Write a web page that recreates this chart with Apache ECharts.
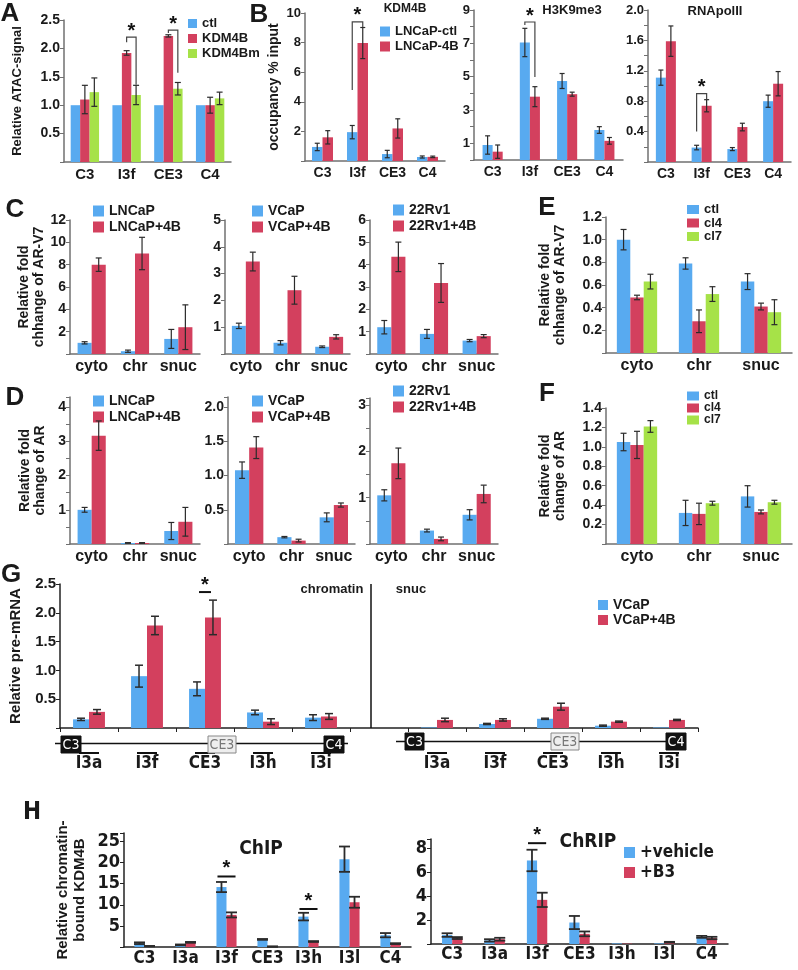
<!DOCTYPE html>
<html><head><meta charset="utf-8"><title>chart</title>
<script src="https://cdn.jsdelivr.net/npm/echarts@6.0.0/dist/echarts.min.js"></script>
<style>html,body{margin:0;padding:0;background:#fff;}#chart{width:798px;height:970px;}</style>
</head><body><div id="chart"></div>
<script>
// ================= DATA =================
// Panel A
const catsA = ['C3','I3f','CE3','C4'];
const A_ctl = [1.0,1.0,1.0,1.0],      A_ctlErr = [0,0,0,0];
const A_4B  = [1.10,1.92,2.22,1.00],  A_4BErr  = [0.25,0.04,0.02,0.14];
const A_4Bm = [1.23,1.18,1.29,1.12],  A_4BmErr = [0.25,0.17,0.11,0.11];
const A_ticks = [0.5,1.0,1.5,2.0,2.5];
const A_sig = [[1,2.20,2.11,1.36],[2,2.32,2.27,1.57]];
// Panel B
const catsB = ['C3','I3f','CE3','C4'];
const B1_ctl = [0.95,1.95,0.47,0.27], B1_ctlErr = [0.25,0.45,0.25,0.07];
const B1_4B  = [1.60,7.97,2.20,0.28], B1_4BErr  = [0.45,1.05,0.65,0.05];
const B1_ticks = [2,4,6,8,10];
const B1_sig = [[1,9.4,4.8,9.05]];
const B2_ctl = [0.90,7.05,4.74,1.80], B2_ctlErr = [0.55,0.85,0.45,0.20];
const B2_4B  = [0.50,3.80,3.95,1.15], B2_4BErr  = [0.40,0.60,0.12,0.20];
const B2_ticks = [1,3,5,7,9];
const B2_sig = [[1,8.28,8.1,4.98]];
const B3_ctl = [1.11,0.19,0.17,0.80], B3_ctlErr = [0.10,0.03,0.02,0.08];
const B3_4B  = [1.59,0.74,0.46,1.03], B3_4BErr  = [0.20,0.08,0.05,0.16];
const B3_ticks = [0.4,0.8,1.2,1.6,2.0];
const B3_sig = [[1,0.90,0.40,0.83]];
// Panels C / D / E / F
const catsC = ['cyto','chr','snuc'];
const C1_a = [1.00,0.25,1.35], C1_aErr = [0.10,0.10,0.85];
const C1_b = [8.00,9.00,2.40], C1_bErr = [0.60,1.45,2.00];
const C1_ticks = [2,4,6,8,10,12];
const C2_a = [1.05,0.42,0.27], C2_aErr = [0.10,0.08,0.03];
const C2_b = [3.45,2.38,0.64], C2_bErr = [0.35,0.52,0.08];
const C2_ticks = [1,2,3,4,5];
const C3_a = [1.20,0.90,0.60], C3_aErr = [0.30,0.20,0.05];
const C3_b = [4.35,3.18,0.80], C3_bErr = [0.66,0.87,0.07];
const C3_ticks = [1,2,3,4,5,6];
const E_ctl = [1.00,0.79,0.63], E_ctlErr = [0.09,0.05,0.07];
const E_cl4 = [0.49,0.28,0.41], E_cl4Err = [0.02,0.10,0.03];
const E_cl7 = [0.63,0.52,0.36], E_cl7Err = [0.065,0.065,0.11];
const E_ticks = [0.2,0.4,0.6,0.8,1.0,1.2];
const D1_a = [1.00,0.03,0.38], D1_aErr = [0.07,0.01,0.25];
const D1_b = [3.17,0.03,0.65], D1_bErr = [0.43,0.01,0.42];
const D1_ticks = [1,2,3,4];
const D2_a = [1.08,0.10,0.39], D2_aErr = [0.12,0.01,0.065];
const D2_b = [1.41,0.05,0.57], D2_bErr = [0.16,0.02,0.03];
const D2_ticks = [0.5,1.0,1.5,2.0];
const D3_a = [1.05,0.29,0.63], D3_aErr = [0.12,0.03,0.11];
const D3_b = [1.74,0.11,1.08], D3_bErr = [0.33,0.04,0.19];
const D3_ticks = [1,2,3];
const F_ctl = [1.05,0.32,0.49], F_ctlErr = [0.09,0.13,0.11];
const F_cl4 = [1.02,0.31,0.33], F_cl4Err = [0.14,0.11,0.02];
const F_cl7 = [1.21,0.42,0.43], F_cl7Err = [0.06,0.02,0.02];
const F_ticks = [0.2,0.4,0.6,0.8,1.0,1.2,1.4];
// Panel G
const G_chromCats = ['I3a','I3f','CE3','I3h','I3i'];
const G_snucCats  = ['I3a','I3f','CE3','I3h','I3i'];
const G_chrV   = [0.15,0.90,0.68,0.27,0.18], G_chrVErr  = [0.02,0.19,0.12,0.04,0.05];
const G_chrV4B = [0.28,1.78,1.92,0.11,0.20], G_chrV4BErr= [0.04,0.16,0.30,0.05,0.05];
const G_snV    = [0.01,0.07,0.16,0.04,0.01], G_snVErr   = [0,0.01,0.01,0.01,0];
const G_snV4B  = [0.14,0.14,0.37,0.11,0.14], G_snV4BErr = [0.03,0.02,0.06,0.01,0.01];
const G_ticks = [0.5,1.0,1.5,2.0,2.5];
const G_sig = [[2,2.36]];
// Panel H
const catsH = ['C3','I3a','I3f','CE3','I3h','I3l','C4'];
const H1_veh = [0.9,0.5,14.2,1.8,7.2,20.8,2.8], H1_vehErr = [0.2,0.1,1.2,0.1,0.9,3.0,0.5];
const H1_b3  = [0.2,1.1,7.6,0.1,1.3,10.6,0.8],  H1_b3Err  = [0.05,0.1,0.6,0.05,0.1,1.3,0.1];
const H1_ticks = [5,10,15,20,25];
const H1_sig = [[2,16.7],[4,9.0]];
const H2_veh = [0.75,0.30,7.0,1.80,0.05,0.05,0.60], H2_vehErr = [0.15,0.10,0.9,0.55,0,0,0.08];
const H2_b3  = [0.50,0.40,3.7,0.85,0.03,0.15,0.50], H2_b3Err  = [0.08,0.12,0.6,0.20,0,0.03,0.10];
const H2_ticks = [2,4,6,8];
const H2_sig = [[2,8.45]];

// ================= STYLE / BUILD =================
const FONT = '"Liberation Sans", Arial, Helvetica, sans-serif';
const NARROW = '"Liberation Sans Narrow", "Arial Narrow", "DejaVu Sans Condensed", sans-serif';
const BLUE='#58aaf0', RED='#d3405e', GREEN='#a6e248', INK='#1a1a1a', AX='#707070', ERRC='#2b2b2b';

const grids=[], xAxes=[], yAxes=[], series=[], legends=[], graphics=[];
function near(v, list){ return list.some(t=>Math.abs(t-v)<1e-6); }
function barOffset(band,n,gap,i){ const g=band*(1-gap); const w=g/n; return -g/2+(i+0.5)*w; }

function addPanel(p){
  const gi=grids.length, ax=p.axisColor||AX;
  grids.push({left:p.grid[0], top:p.grid[1], width:p.grid[2], height:p.grid[3], containLabel:false, outerBoundsMode:'none'});
  xAxes.push({type:'category', gridIndex:gi, data:p.cats,
    axisLine:{show:true, onZero:false, lineStyle:{color:ax, width:p.axisW||1.5}},
    axisTick:{show:!!p.xTick, length:4, alignWithLabel:false, lineStyle:{color:ax, width:1}},
    axisLabel:Object.assign({interval:0, fontFamily:p.catFont||FONT, fontWeight:'bold', fontSize:p.catSize||15, color:INK,
      margin:(p.catMargin==null?5:p.catMargin)}, p.catFmt?{formatter:p.catFmt}:{}, p.catExtra||{}),
    splitLine:{show:false}});
  yAxes.push({type:'value', gridIndex:gi, min:0, max:p.max, interval:p.interval,
    name:p.yName||'', nameLocation:'middle', nameRotate:90, nameGap:p.nameGap||30,
    nameTextStyle:{fontFamily:p.nameFont||FONT, fontWeight:'bold', fontSize:p.nameSize||14, lineHeight:p.nameLH||16, color:INK},
    axisLine:{show:true, lineStyle:{color:ax, width:p.axisW||1.5}},
    axisTick:{show:true, length:4, lineStyle:{color:ax, width:1}},
    axisLabel:{fontFamily:p.tickFont||FONT, fontWeight:'bold', fontSize:p.tickSize||14, color:INK, margin:p.tickMargin||4,
      formatter:v=> near(v,p.ticks) ? v.toFixed(p.dec||0) : ''},
    splitLine:{show:false}});
  const n=p.bars.length, gap=p.gap;
  p.bars.forEach((b,i)=>{
    const s={type:'bar', name:b.name, xAxisIndex:gi, yAxisIndex:gi, data:b.data, barGap:'0%',
      barCategoryGap:(gap*100)+'%', itemStyle:{color:b.color}, z:2, silent:true};
    if(i===0 && p.markLine) s.markLine=p.markLine;
    series.push(s);
    const ed=[]; b.data.forEach((v,k)=>{ if(v!=null && b.err[k]) ed.push([k,v,b.err[k]]); });
    series.push({type:'custom', xAxisIndex:gi, yAxisIndex:gi, z:6, silent:true, data:ed, renderItem:(params,api)=>{
      const k=api.value(0), v=api.value(1), e=api.value(2);
      const band=api.size([1,0])[0];
      const off=barOffset(band,n,gap,i);
      const t=api.coord([k,v+e]), bt=api.coord([k,Math.max(v-e,0)]);
      const x=t[0]+off, c=(p.cap||6)/2, st={stroke:ERRC, lineWidth:p.errW||1.2};
      return {type:'group', children:[
        {type:'line', shape:{x1:x,y1:t[1],x2:x,y2:bt[1]}, style:st},
        {type:'line', shape:{x1:x-c,y1:t[1],x2:x+c,y2:t[1]}, style:st},
        {type:'line', shape:{x1:x-c,y1:bt[1],x2:x+c,y2:bt[1]}, style:st}]};
    }});
  });
  if(p.sig){
    series.push({type:'custom', xAxisIndex:gi, yAxisIndex:gi, z:7, silent:true, data:p.sig, renderItem:(params,api)=>{
      const k=api.value(0), h=api.value(1);
      const band=api.size([1,0])[0];
      const base=api.coord([k,h]);
      let xl=base[0]+barOffset(band,n,gap,p.sigBars[0]), xr=base[0]+barOffset(band,n,gap,p.sigBars[1]);
      const ch=[];
      if(p.sigType==='bracket'){
        const yl=api.coord([k,api.value(2)])[1], yr=api.coord([k,api.value(3)])[1];
        ch.push({type:'polyline', shape:{points:[[xl,yl],[xl,base[1]],[xr,base[1]],[xr,yr]]}, style:{stroke:'#444', lineWidth:1.2, fill:null}});
      } else {
        const pad=p.sigPad||0; xl-=pad; xr+=pad;
        ch.push({type:'line', shape:{x1:xl,y1:base[1],x2:xr,y2:base[1]}, style:{stroke:'#111', lineWidth:p.sigW||2}});
      }
      ch.push({type:'text', x:(xl+xr)/2, y:base[1]+(p.starDy||0), style:{text:'*', fill:'#111',
        font:'bold '+(p.starSize||20)+'px '+FONT, align:'center', verticalAlign:'middle'}});
      return {type:'group', children:ch};
    }});
  }
  if(p.legend){
    const L=p.legend;
    legends.push({orient:'vertical', left:L.left, top:L.top, padding:0, itemGap:L.gap, itemWidth:L.w, itemHeight:L.h,
      icon:'rect', selectedMode:false, data:p.bars.map(b=>b.name),
      textStyle:{fontFamily:L.font||FONT, fontWeight:'bold', fontSize:L.size, color:INK}});
  }
}

// ---- A ----
addPanel({grid:[64,20,167,142], cats:catsA, max:2.5, interval:0.5, ticks:A_ticks, dec:1, tickSize:14, catSize:15,
  yName:'Relative ATAC-signal', nameGap:39, nameSize:13, gap:0.32, cap:6,
  bars:[{name:'ctl',color:BLUE,data:A_ctl,err:A_ctlErr},{name:'KDM4B',color:RED,data:A_4B,err:A_4BErr},{name:'KDM4Bm',color:GREEN,data:A_4Bm,err:A_4BmErr}],
  sig:A_sig, sigType:'bracket', sigBars:[1,2], starDy:-6,
  legend:{left:188,top:17,gap:2,w:9,h:9,size:13}});
// ---- B ----
addPanel({grid:[305,13,140,148], cats:catsB, max:10, interval:2, ticks:B1_ticks, tickSize:13, catSize:14,
  yName:'occupancy % input', nameGap:20, nameSize:14, gap:0.4, cap:5,
  bars:[{name:'LNCaP-ctl',color:BLUE,data:B1_ctl,err:B1_ctlErr},{name:'LNCaP-4B',color:RED,data:B1_4B,err:B1_4BErr}],
  sig:B1_sig, sigType:'bracket', sigBars:[0,1], starDy:-6,
  legend:{left:380,top:25,gap:2,w:10,h:10,size:13}});
addPanel({grid:[474,10,149,150], cats:catsB, max:9, interval:1, ticks:B2_ticks, tickSize:13, catSize:14, gap:0.46, cap:5,
  bars:[{name:'LNCaP-ctl',color:BLUE,data:B2_ctl,err:B2_ctlErr},{name:'LNCaP-4B',color:RED,data:B2_4B,err:B2_4BErr}],
  sig:B2_sig, sigType:'bracket', sigBars:[0,1], starDy:-6});
addPanel({grid:[648,10,143,152], cats:catsB, max:2.0, interval:0.2, ticks:B3_ticks, dec:1, tickSize:13, catSize:14, gap:0.44, cap:5,
  bars:[{name:'LNCaP-ctl',color:BLUE,data:B3_ctl,err:B3_ctlErr},{name:'LNCaP-4B',color:RED,data:B3_4B,err:B3_4BErr}],
  sig:B3_sig, sigType:'bracket', sigBars:[0,1], starDy:-6});
// ---- C ----
addPanel({grid:[70,220,130,134], cats:catsC, max:12, interval:2, ticks:C1_ticks, tickSize:14, catSize:16,
  yName:'Relative fold\nchhange of AR-V7', nameGap:22, nameSize:14, nameLH:15, gap:0.35, cap:6,
  bars:[{name:'LNCaP',color:BLUE,data:C1_a,err:C1_aErr},{name:'LNCaP+4B',color:RED,data:C1_b,err:C1_bErr}],
  legend:{left:93,top:204,gap:2,w:11,h:11,size:14}});
addPanel({grid:[225,220,125,134], cats:catsC, max:5, interval:1, ticks:C2_ticks, tickSize:14, catSize:16, gap:0.33, cap:6,
  bars:[{name:'VCaP',color:BLUE,data:C2_a,err:C2_aErr},{name:'VCaP+4B',color:RED,data:C2_b,err:C2_bErr}],
  legend:{left:252,top:204,gap:2,w:11,h:11,size:14}});
addPanel({grid:[370,220,128,134], cats:catsC, max:6, interval:1, ticks:C3_ticks, tickSize:14, catSize:16, gap:0.34, cap:6,
  bars:[{name:'22Rv1',color:BLUE,data:C3_a,err:C3_aErr},{name:'22Rv1+4B',color:RED,data:C3_b,err:C3_bErr}],
  legend:{left:393,top:203,gap:2,w:11,h:11,size:14}});
// ---- E ----
addPanel({grid:[606,217,186,136], cats:catsC, max:1.2, interval:0.2, ticks:E_ticks, dec:1, tickSize:14, catSize:16,
  yName:'Relative fold\nchhange of AR-V7', nameGap:38, nameSize:14, nameLH:15, gap:0.35, cap:6,
  bars:[{name:'ctl',color:BLUE,data:E_ctl,err:E_ctlErr},{name:'cl4',color:RED,data:E_cl4,err:E_cl4Err},{name:'cl7',color:GREEN,data:E_cl7,err:E_cl7Err}],
  legend:{left:687,top:203,gap:0.5,w:12,h:9,size:13}});
// ---- D ----
addPanel({grid:[70,397,130,147], cats:catsC, max:4.3, interval:0.5, ticks:D1_ticks, tickSize:14, catSize:16,
  yName:'Relative fold\nchange of AR', nameGap:22, nameSize:14, nameLH:15, gap:0.35, cap:6,
  bars:[{name:'LNCaP',color:BLUE,data:D1_a,err:D1_aErr},{name:'LNCaP+4B',color:RED,data:D1_b,err:D1_bErr}],
  legend:{left:93,top:394,gap:2,w:11,h:11,size:14}});
addPanel({grid:[228,397,127,147], cats:catsC, max:2.15, interval:0.5, ticks:D2_ticks, dec:1, tickSize:14, catSize:16, gap:0.33, cap:6,
  bars:[{name:'VCaP',color:BLUE,data:D2_a,err:D2_aErr},{name:'VCaP+4B',color:RED,data:D2_b,err:D2_bErr}],
  legend:{left:252,top:394,gap:2,w:11,h:11,size:14}});
addPanel({grid:[370,398,128,146], cats:catsC, max:3.15, interval:0.5, ticks:D3_ticks, tickSize:14, catSize:16, gap:0.34, cap:6,
  bars:[{name:'22Rv1',color:BLUE,data:D3_a,err:D3_aErr},{name:'22Rv1+4B',color:RED,data:D3_b,err:D3_bErr}],
  legend:{left:393,top:384,gap:2,w:11,h:11,size:14}});
// ---- F ----
addPanel({grid:[606,408,186,136], cats:catsC, max:1.4, interval:0.2, ticks:F_ticks, dec:1, tickSize:14, catSize:16,
  yName:'Relative fold\nchange of AR', nameGap:38, nameSize:14, nameLH:15, gap:0.35, cap:6,
  bars:[{name:'ctl',color:BLUE,data:F_ctl,err:F_ctlErr},{name:'cl4',color:RED,data:F_cl4,err:F_cl4Err},{name:'cl7',color:GREEN,data:F_cl7,err:F_cl7Err}],
  legend:{left:687,top:390,gap:0,w:12,h:9,size:12}});
// ---- G ----
const G_cats = [...G_chromCats.map(c=>c+' chromatin'), 'gap', ...G_snucCats.map(c=>c+' snuc')];
addPanel({grid:[60,584,638,144], cats:G_cats, max:2.5, interval:0.5, ticks:G_ticks, dec:1, tickSize:15,
  axisColor:'#222', xTick:true, catMargin:23,
  catFmt:v=> v==='gap' ? '' : '{b|}\n{t|'+v.split(' ')[0]+'}',
  catExtra:{rich:{b:{width:20,height:2,backgroundColor:'#111',lineHeight:4}, t:{fontFamily:NARROW,fontWeight:'bold',fontSize:17,color:INK,lineHeight:18}}},
  yName:'Relative pre-mRNA', nameGap:32, nameSize:15, gap:0.45, cap:8, errW:1.5,
  markLine:{silent:true, symbol:'none', label:{show:false}, lineStyle:{color:'#111',width:1.5,type:'solid'}, data:[{xAxis:'gap'}]},
  bars:[{name:'VCaP',color:BLUE,data:[...G_chrV,null,...G_snV],err:[...G_chrVErr,0,...G_snVErr]},
        {name:'VCaP+4B',color:RED,data:[...G_chrV4B,null,...G_snV4B],err:[...G_chrV4BErr,0,...G_snV4BErr]}],
  sig:G_sig, sigType:'line', sigBars:[0,1], sigPad:-2, sigW:2, starDy:-7, starSize:20,
  legend:{left:598,top:598,gap:1,w:10,h:10,size:14}});
// ---- H ----
addPanel({grid:[124,833,287,114], cats:catsH, max:27, interval:5, ticks:H1_ticks, tickSize:18, tickFont:NARROW,
  axisColor:'#222', catFont:NARROW, catSize:17, catMargin:3,
  yName:'Relative chromatin-\nbound KDM4B', nameGap:36, nameSize:15, nameLH:17, gap:0.51, cap:11, errW:1.8,
  bars:[{name:'+vehicle',color:BLUE,data:H1_veh,err:H1_vehErr},{name:'+B3',color:RED,data:H1_b3,err:H1_b3Err}],
  sig:H1_sig, sigType:'line', sigBars:[0,1], sigPad:4, sigW:2, starDy:-8, starSize:20});
addPanel({grid:[431,839,297,105], cats:catsH, max:8.8, interval:2, ticks:H2_ticks, tickSize:18, tickFont:NARROW,
  axisColor:'#222', catFont:NARROW, catSize:17, catMargin:2, gap:0.52, cap:11, errW:1.8,
  bars:[{name:'+vehicle',color:BLUE,data:H2_veh,err:H2_vehErr},{name:'+B3',color:RED,data:H2_b3,err:H2_b3Err}],
  sig:H2_sig, sigType:'line', sigBars:[0,1], sigPad:4, sigW:2, starDy:-8, starSize:20,
  legend:{left:624,top:844,gap:3,w:11,h:11,size:17,font:NARROW}});

// ---- text & schematic decorations ----
function txt(x,y,text,size,family,extra){ graphics.push({type:'text', x:x, y:y, silent:true, z:10,
  style:Object.assign({text:text, fill:INK, font:'bold '+size+'px '+(family||FONT), align:'center', verticalAlign:'middle'}, extra||{})}); }
txt(10,14,'A',26); txt(259,15,'B',26); txt(15,210,'C',26); txt(15,398,'D',26);
txt(547,208,'E',26); txt(547,394,'F',26); txt(11,575,'G',26); txt(32,813,'H',24,NARROW);
txt(405,9,'KDM4B',12); txt(572,10,'H3K9me3',13); txt(715,11,'RNApolII',13);
txt(332,589,'chromatin',13); txt(411,589,'snuc',13);
txt(261,849,'ChIP',19,NARROW); txt(588,842,'ChRIP',19,NARROW);

function hline(x1,x2,y){ graphics.push({type:'line', silent:true, z:8, shape:{x1:x1,y1:y,x2:x2,y2:y}, style:{stroke:'#111', lineWidth:1.5}}); }
function exon(x,y,w,h,label,dark){
  graphics.push({type:'rect', silent:true, z:9, shape:{x:x,y:y,width:w,height:h}, style:{fill:dark?'#111':'#eeeeee', stroke:dark?'#111':'#888', lineWidth:1}});
  graphics.push({type:'text', silent:true, z:10, x:x+w/2, y:y+h/2+1, style:{text:label, fill:dark?'#fff':'#777', font:'14px '+NARROW, align:'center', verticalAlign:'middle'}});
}
hline(55,348,743.5); exon(61,736,20,17,'C3',true); exon(208,736,28,17,'CE3',false); exon(324,736,20,17,'C4',true);
hline(396,686,741.5); exon(405,733,19,17,'C3',true); exon(551,733,28,17,'CE3',false); exon(666,733,20,17,'C4',true);

const chart = echarts.init(document.getElementById('chart'), null, {renderer:'canvas'});
chart.setOption({animation:false, backgroundColor:'#fff', grid:grids, xAxis:xAxes, yAxis:yAxes, series:series, legend:legends, graphic:graphics});
</script></body></html>
